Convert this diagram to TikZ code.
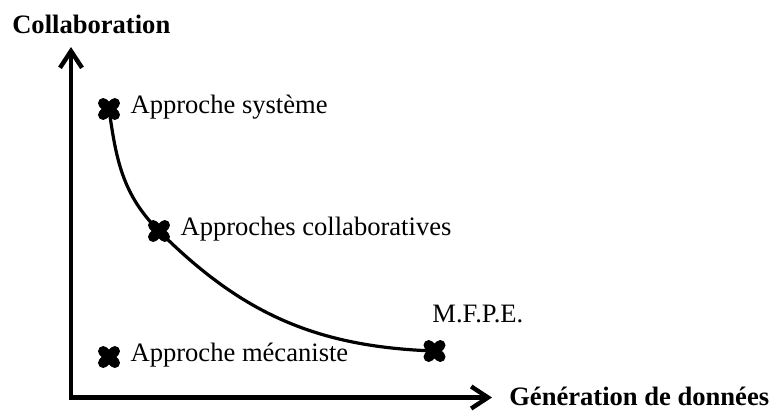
\documentclass[tikz,border=0pt]{standalone}
\usepackage{fontspec}
\setmainfont{Liberation Serif}
\usetikzlibrary{positioning, arrows.meta}

\begin{document}
\begin{tikzpicture}[x=0.025cm, y=0.025cm, node distance=0.25cm,
    font=\fontsize{18.9}{22}\selectfont,
    croix/.style={minimum size=0.55cm, inner sep=0pt, path picture={
        \draw [line width=0.26cm, line cap=round]
            ([shift={(-5.8,-5.8)}]path picture bounding box.center) -- ([shift={(5.8,5.8)}]path picture bounding box.center)
            ([shift={(-5.8,5.8)}]path picture bounding box.center) -- ([shift={(5.8,-5.8)}]path picture bounding box.center);}},
    etiquette/.style={inner sep=0pt, text height=1.5ex, text depth=0pt},
    titre/.style={inner sep=0pt, font=\fontsize{18.9}{22}\selectfont\bfseries},
    axe/.style={line width=0.11cm, >={Straight Barb[length=0.42cm, width=0.55cm]}, <->},
    courbe/.style={line width=0.08cm}]
    \useasboundingbox (0,0) rectangle (774,410);

    % axes
    \coordinate (O) at (71,12.5);
    \coordinate (Y) at (71,363);
    \coordinate (X) at (492,12.5);
    \draw [axe] (Y) -- (O) -- (X);
    \node (ylab) [titre, anchor=base west] at (12,377) {Collaboration};
    \node (xlab) [titre, anchor=base west] at (509,4.5) {Génération de données};

    % points
    \node (sys) [croix] at (109,301) {};
    \node (col) [croix] at (159,179) {};
    \node (mfpe) [croix] at (434.5,59) {};
    \node (meca) [croix] at (109,53) {};

    \node (sysl) [right=of sys, etiquette] {Approche système};
    \node (coll) [right=of col, etiquette] {Approches collaboratives};
    \node (mecal) [right=of meca, etiquette] {Approche mécaniste};
    \node (mfpel) [above=0.425cm of mfpe.north, anchor=base west, xshift=-0.06cm, etiquette] {M.F.P.E.};

    \draw [courbe] (sys.center) to [out=-82, in=135] (col.center)
                   to [out=-45, in=178] (mfpe.center);
\end{tikzpicture}
\end{document}
